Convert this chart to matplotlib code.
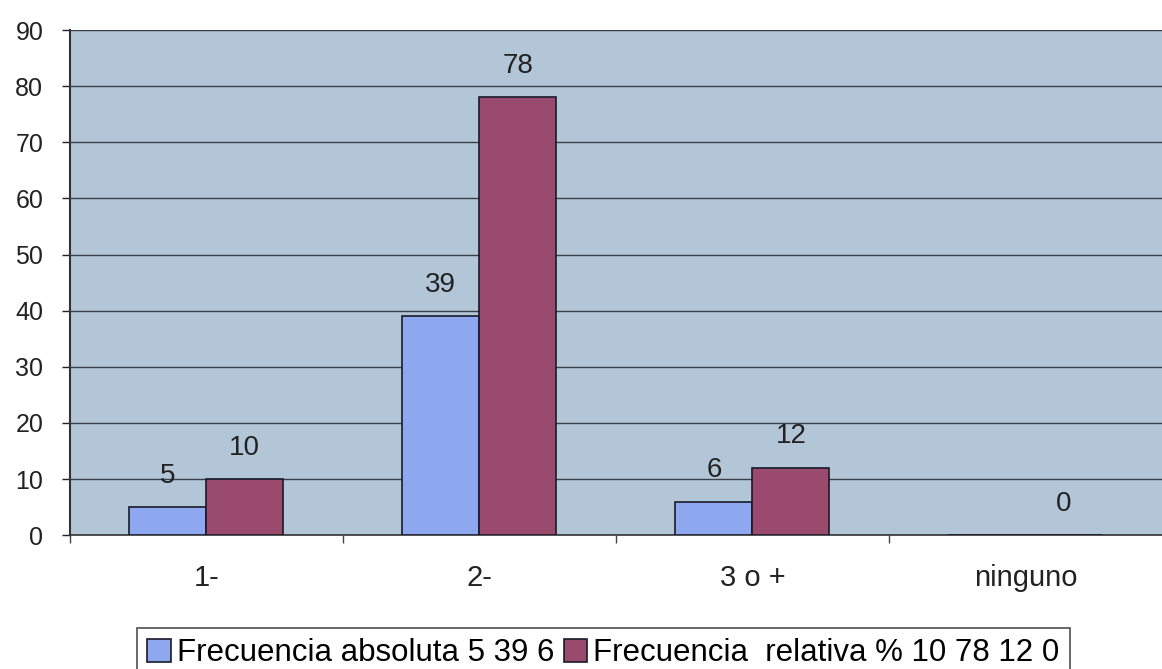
import matplotlib

matplotlib.use("Agg")
import matplotlib.pyplot as plt
import numpy as np

categories = ["1-", "2-", "3 o +", "ninguno"]
absoluta = [5, 39, 6, 0]
relativa = [10, 78, 12, 0]
yticks = list(range(0, 100, 10))

BG = "#B3C6D8"
BLUE = "#8DA8EE"
MAROON = "#9A4A6C"
GRID = "#3A3F48"

plt.rcParams["font.family"] = ["Liberation Sans", "DejaVu Sans"]

fig = plt.figure(figsize=(11.62, 6.69), dpi=100)
ax = fig.add_axes([0.060, 0.200, 0.940, 0.755])
ax.set_facecolor(BG)

x = np.arange(len(categories))
w = 0.282
b1 = ax.bar(x - w / 2, absoluta, w, color=BLUE, edgecolor="#1a1a2a", lw=1.2, zorder=3,
            label="Frecuencia absoluta 5 39 6")
b2 = ax.bar(x + w / 2, relativa, w, color=MAROON, edgecolor="#1a1a2a", lw=1.2, zorder=3,
            label="Frecuencia  relativa % 10 78 12 0")

# value labels above the bars (Excel hides the zero of the first series)
for xi, v in zip(x - w / 2, absoluta):
    if v > 0:
        ax.text(xi, v + 5.6, str(v), ha="center", va="center", fontsize=20, color="#222")
for xi, v in zip(x + w / 2, relativa):
    ax.text(xi, v + 5.6, str(v), ha="center", va="center", fontsize=20, color="#222")

ax.set_xlim(-0.5, len(categories) - 0.5)
ax.set_ylim(0, 90)
ax.set_yticks(yticks)
ax.tick_params(axis="y", labelsize=18, length=6, width=1, colors="#222", pad=13)
ax.set_xticks(x)
ax.set_xticklabels(categories, fontsize=21)
ax.set_xticks(np.arange(len(categories)) - 0.5, minor=True)
ax.tick_params(axis="x", which="major", length=0, pad=21, colors="#222")
ax.tick_params(axis="x", which="minor", length=6, width=1, colors="#444")
ax.grid(axis="y", color=GRID, lw=1.0, zorder=1)
ax.set_axisbelow(True)
for s in ["top", "right"]:
    ax.spines[s].set_visible(False)
ax.spines["left"].set_color("#333")
ax.spines["left"].set_linewidth(1.5)
ax.spines["bottom"].set_color("#333")
ax.spines["bottom"].set_linewidth(1.2)

leg = fig.legend(handles=[b1, b2], loc="upper left", bbox_to_anchor=(137 / 1162, 1 - 628 / 669),
                 borderaxespad=0, ncol=2, fontsize=22.5, frameon=True, fancybox=False,
                 edgecolor="#222", handlelength=0.75, handleheight=0.75, handletextpad=0.2,
                 columnspacing=0.3, borderpad=0.33)
leg.get_frame().set_linewidth(1.2)

fig.savefig("out.png", dpi=100, facecolor="white")
